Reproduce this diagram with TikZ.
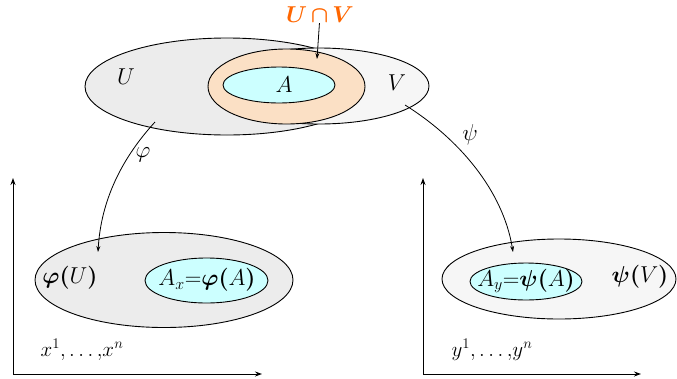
\documentclass[tikz,border=0pt]{standalone}
\usepackage{fix-cm}
\usepackage{amsmath,bm}
\usetikzlibrary{shapes.geometric,arrows.meta}
\definecolor{ufill}{RGB}{236,236,236}
\definecolor{vfill}{RGB}{246,246,246}
\definecolor{orfill}{RGB}{251,224,197}
\definecolor{afill}{RGB}{204,255,255}
\definecolor{orlab}{RGB}{255,102,0}
\tikzset{
  ell/.style={ellipse, draw=black, line width=0.9pt, inner sep=0pt},
  lab/.style={inner sep=0pt, font=\fontsize{23}{27}\selectfont},
  coordlab/.style={inner sep=0pt, font=\fontsize{21}{25}\selectfont},
  maparrow/.style={-{Stealth[length=6pt,width=4pt]}, line width=0.8pt},
  axis/.style={-{Stealth[length=7pt,width=5pt]}, line width=1pt}
}
\begin{document}
\begin{tikzpicture}[x=1pt,y=-1pt]
\useasboundingbox (0,0) rectangle (677,378);
% top sets
\node[ell, fill=ufill, minimum width=284pt, minimum height=97pt] (U) at (227,86.5) {};
\node[ell, fill=vfill, minimum width=220pt, minimum height=76pt] (V) at (319,86) {};
\node[ell, fill=orfill, minimum width=157pt, minimum height=75pt] (UV) at (286.5,86.5) {};
\node[ell, fill=afill, minimum width=112pt, minimum height=36pt] (A) at (279,85) {};
\node[lab] (Ul) at (126,77) {$U$};
\node[lab] (Al) at (284,85) {$A$};
\node[lab] (Vl) at (397,83) {$V$};
\node[lab, text=orlab] (UVl) at (320,15) {$\boldsymbol{U\,{\cap}\,V}$};
\coordinate (UVt) at (317,59);
\draw[maparrow] (UVl) -- (UVt);
% bottom left
\node[ell, fill=ufill, minimum width=258pt, minimum height=95pt] (PU) at (164,280) {};
\node[ell, fill=afill, minimum width=123pt, minimum height=45pt] (Ax) at (206.5,280.5) {};
\node[lab] (PUl) at (70,278) {$\boldsymbol{\varphi(}U\boldsymbol{)}$};
\node[lab] (Axl) at (207,280) {$A_x{=}\boldsymbol{\varphi(}A\boldsymbol{)}$};
\node[coordlab] (xl) at (82,350) {$x^1{,}\ldots{,}x^n$};
\coordinate (O1) at (13,374);
\coordinate (Y1) at (13,178);
\coordinate (X1) at (262,374);
\draw[axis] (O1) -- (Y1);
\draw[axis] (O1) -- (X1);
% bottom right
\node[ell, fill=vfill, minimum width=234pt, minimum height=80pt] (PV) at (559,279) {};
\node[ell, fill=afill, minimum width=112pt, minimum height=37pt] (Ay) at (526,281.5) {};
\node[lab] (PVl) at (640,277) {$\boldsymbol{\psi(}V\boldsymbol{)}$};
\node[lab] (Ayl) at (526,281) {$A_y{=}\boldsymbol{\psi(}A\boldsymbol{)}$};
\node[coordlab] (yl) at (492,350) {$y^1{,}\ldots{,}y^n$};
\coordinate (O2) at (423,374);
\coordinate (Y2) at (423,178);
\coordinate (X2) at (641,374);
\draw[axis] (O2) -- (Y2);
\draw[axis] (O2) -- (X2);
% maps
\coordinate (phs) at (155,122);
\coordinate (phe) at (98,252);
\draw[maparrow] (phs) .. controls (122,158) and (101,200) .. (phe);
\node[lab] (phl) at (143,155) {$\varphi$};
\coordinate (pss) at (405,105);
\coordinate (pse) at (513,252);
\draw[maparrow] (pss) .. controls (458,138) and (503,190) .. (pse);
\node[lab] (psl) at (470,135) {$\psi$};
\end{tikzpicture}
\end{document}
